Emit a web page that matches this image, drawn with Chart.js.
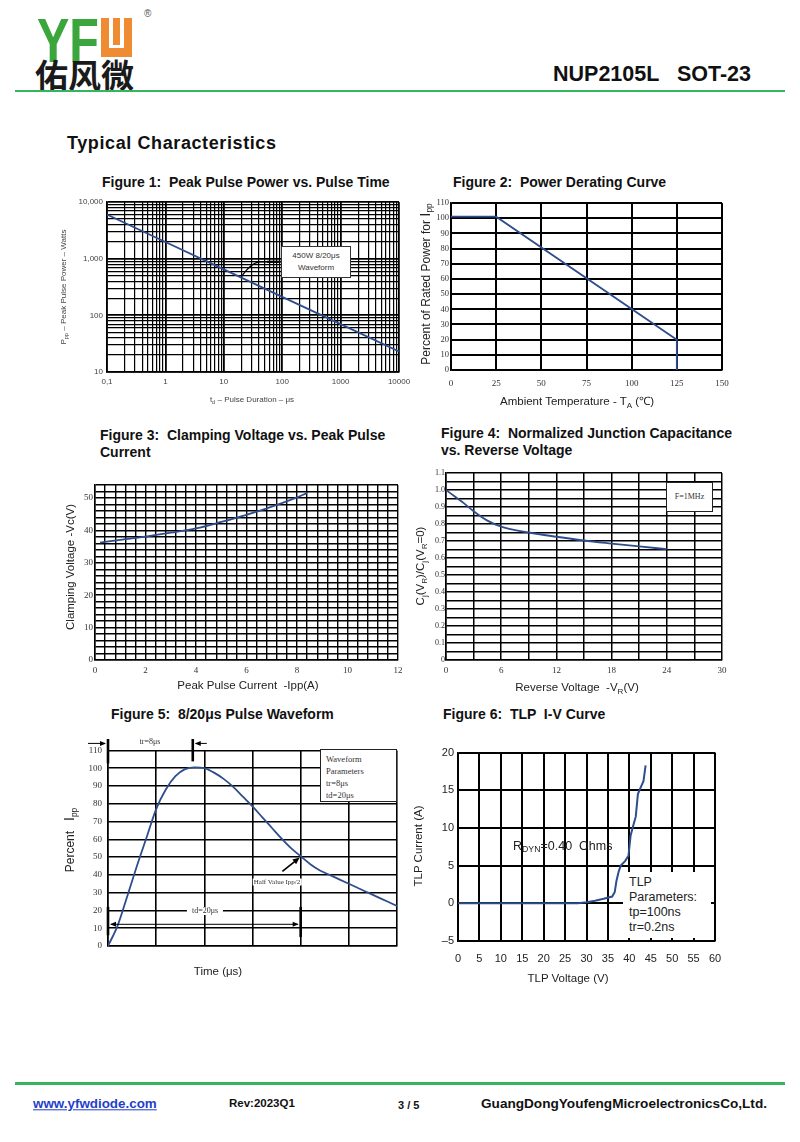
<!DOCTYPE html>
<html>
<head>
<meta charset="utf-8">
<title>NUP2105L SOT-23 Typical Characteristics</title>
<script src="https://cdn.jsdelivr.net/npm/chart.js@4.4.0/dist/chart.umd.min.js"></script>
<style>
body { margin: 0; width: 800px; height: 1142px; position: relative; background: #fff; overflow: hidden;
       font-family: "Liberation Sans", Arial, sans-serif; color: #111; }
.t { position: absolute; white-space: pre; line-height: 1; }
.c { transform: translate(-50%, -50%); }
.l { transform: translateY(-50%); }
.r { transform: translate(-50%, -50%) rotate(-90deg); }
.fig { font-weight: bold; font-size: 14px; }
.ax { font-size: 11.5px; color: #222; }
.sm { font-size: 8px; color: #444; }
.serif { font-family: "Liberation Serif", "Times New Roman", serif; }
canvas { position: absolute; }
.box { position: absolute; background: #fff; box-sizing: border-box; }
sub { font-size: 70%; vertical-align: -0.3em; line-height: 0; }
</style>
</head>
<body>

<!-- en-tête -->
<div class="t" style="left:37px;top:4px;font:bold 63px 'Liberation Sans';color:#3aa63b;transform:scaleX(0.77);transform-origin:left top;">YF</div>
<div style="position:absolute;left:101px;top:18px;width:31px;height:39px;background:#ef8b32;">
  <div style="position:absolute;left:8px;top:0;width:4px;height:30px;background:#fff;"></div>
  <div style="position:absolute;left:19px;top:0;width:4px;height:30px;background:#fff;"></div>
  <div style="position:absolute;left:8px;top:27px;width:15px;height:3px;background:#fff;"></div>
</div>
<div class="t" style="left:144px;top:9px;font-size:10px;color:#555;">®</div>
<div class="t" style="left:35px;top:50px;font:bold 33px 'Noto Sans CJK SC';color:#1a1a1a;">佑风微</div>
<div style="position:absolute;left:15px;top:90px;width:770px;height:2px;background:#35b462;"></div>
<div class="t l" style="left:553px;top:75px;font-weight:bold;font-size:21.5px;">NUP2105L   SOT-23</div>
<div class="t l" style="left:67px;top:143px;font-weight:bold;font-size:18px;letter-spacing:0.6px;">Typical Characteristics</div>

<!-- titres des figures -->
<div class="t l fig" style="left:102px;top:182px;">Figure 1:  Peak Pulse Power vs. Pulse Time</div>
<div class="t l fig" style="left:453px;top:182px;">Figure 2:  Power Derating Curve</div>
<div class="t l fig" style="left:100px;top:435px;">Figure 3:  Clamping Voltage vs. Peak Pulse</div>
<div class="t l fig" style="left:100px;top:452px;">Current</div>
<div class="t l fig" style="left:441px;top:433px;">Figure 4:  Normalized Junction Capacitance</div>
<div class="t l fig" style="left:441px;top:450px;">vs. Reverse Voltage</div>
<div class="t l fig" style="left:111px;top:714px;">Figure 5:  8/20μs Pulse Waveform</div>
<div class="t l fig" style="left:443px;top:714px;">Figure 6:  TLP  I-V Curve</div>

<!-- canvases -->
<canvas id="fig1"></canvas>
<canvas id="fig2"></canvas>
<canvas id="fig3"></canvas>
<canvas id="fig4"></canvas>
<canvas id="fig5"></canvas>
<canvas id="fig6"></canvas>

<!-- titres des axes -->
<div class="t r sm" style="left:64px;top:287px;">P<sub>pp</sub> – Peak Pulse Power – Watts</div>
<div class="t c sm" style="left:252px;top:400px;">t<sub>d</sub> – Pulse Duration – μs</div>
<div class="t r ax" style="left:424px;top:284px;font-size:12px;">Percent of Rated Power for <span style="font-size:15px">I</span><sub>pp</sub></div>
<div class="t c ax" style="left:577px;top:402px;">Ambient Temperature - T<sub>A</sub> (℃)</div>
<div class="t r ax" style="left:71px;top:567px;">Clamping Voltage -Vc(V)</div>
<div class="t c ax" style="left:248px;top:686px;">Peak Pulse Current  -Ipp(A)</div>
<div class="t r ax" style="left:421px;top:566px;">C<sub>j</sub>(V<sub>R</sub>)/C<sub>j</sub>(V<sub>R</sub>=0)</div>
<div class="t c ax" style="left:577px;top:688px;">Reverse Voltage  -V<sub>R</sub>(V)</div>
<div class="t r ax" style="left:69px;top:840px;font-size:12px;">Percent   <span style="font-size:14px">I</span><sub>pp</sub></div>
<div class="t c ax" style="left:218px;top:972px;">Time (μs)</div>
<div class="t r ax" style="left:419px;top:846px;">TLP Current (A)</div>
<div class="t c ax" style="left:568px;top:979px;">TLP Voltage (V)</div>

<!-- annotations -->
<div class="box sm" style="left:281px;top:246px;width:70px;height:32px;border:1px solid #333;text-align:center;line-height:12px;padding-top:3px;color:#333;">450W 8/20μs<br>Waveform</div>
<div class="box serif" style="left:666px;top:482px;width:47px;height:30px;border:1.5px solid #222;text-align:center;line-height:27px;font-size:8px;color:#333;">F=1MHz</div>
<div class="box serif" style="left:320px;top:749px;width:77px;height:53px;border:1px solid #222;font-size:8.5px;line-height:12px;padding:3px 0 0 5px;color:#333;">Waveform<br>Parameters<br>tr=8μs<br>td=20μs</div>
<div class="t c serif" style="left:150px;top:742px;font-size:8px;color:#333;">tr=8μs</div>
<div class="t c serif" style="left:205px;top:911px;font-size:8px;color:#333;background:#fff;padding:0 5px;">td=20μs</div>
<div class="t c serif" style="left:277px;top:882px;font-size:7px;color:#333;background:#fff;padding:0 1px;">Half Value Ipp/2</div>
<div class="t l" style="left:513px;top:846px;font-size:12.5px;color:#222;">R<sub>DYN</sub>=0.40  Ohms</div>
<div class="box" style="left:623px;top:872px;width:88px;height:66px;font-size:12.5px;line-height:15px;padding:3px 0 0 6px;color:#222;">TLP<br>Parameters:<br>tp=100ns<br>tr=0.2ns</div>

<!-- pied de page -->
<div style="position:absolute;left:15px;top:1082px;width:770px;height:3px;background:#35b462;"></div>
<div class="t l" style="left:33px;top:1104px;font-weight:bold;font-size:13.4px;color:#1f3fc8;text-decoration:underline;">www.yfwdiode.com</div>
<div class="t l" style="left:229px;top:1104px;font-weight:bold;font-size:11.5px;">Rev:2023Q1</div>
<div class="t l" style="left:398px;top:1105px;font-weight:bold;font-size:11px;">3 / 5</div>
<div class="t l" style="left:481px;top:1104px;font-weight:bold;font-size:13.6px;">GuangDongYoufengMicroelectronicsCo,Ltd.</div>

<script>
// Figure 1 : puissance crête vs durée d'impulsion (log-log)
const f1Duration = [0.1, 1, 10, 100, 1000, 10000];
const f1Power = [6000, 1970, 646, 212, 70, 23];
const f1XTicks = [0.1, 1, 10, 100, 1000, 10000];
const f1XLabels = ['0,1', '1', '10', '100', '1000', '10000'];
const f1YTicks = [10, 100, 1000, 10000];
const f1YLabels = ['10', '100', '1,000', '10,000'];

// Figure 2 : courbe de déclassement
const f2Temp = [0, 25, 125, 125];
const f2Percent = [101, 101, 20, 0];

// Figure 3 : tension d'écrêtage vs courant crête
const f3Current = [0.2, 1, 2, 3, 4, 5, 6, 7, 8, 8.4];
const f3Voltage = [36.2, 37.1, 38.1, 39.3, 40.6, 42.6, 44.8, 47.3, 50.2, 51.5];

// Figure 4 : capacité normalisée vs tension inverse
const f4Voltage = [0, 1, 2, 3, 4.5, 6, 9, 12, 15, 18, 21, 24];
const f4Ratio = [1.0, 0.96, 0.92, 0.875, 0.82, 0.785, 0.75, 0.725, 0.703, 0.685, 0.668, 0.652];

// Figure 5 : onde 8/20 µs
const f5Time = [0, 1, 2, 3, 4, 5, 6, 7, 8, 9, 10, 11, 12, 13, 14, 15, 16, 17, 18, 19, 20,
                21, 22, 23, 24, 25, 26, 27, 28, 29, 30];
const f5Percent = [0, 11.5, 28, 45, 61, 77, 88, 95.5, 99.5, 100.5, 100, 97.5, 94, 89.5, 84, 78.5,
                   72.5, 66.5, 60.5, 55, 50.5, 46, 42.5, 40, 37.5, 35, 32.5, 30, 27.5, 25, 22.5];
const f5RiseMark = 8.8;
const f5DecayMark = 20;

// Figure 6 : courbe TLP I-V
const f6Voltage = [0, 28, 30, 32, 34, 36, 36.6, 37, 37.5, 38, 39, 39.8, 40.3, 41, 41.5, 42, 42.5, 43.3, 43.8];
const f6Current = [0, 0, 0.15, 0.35, 0.6, 0.9, 1.5, 3, 4.2, 5, 5.6, 6.3, 9, 10.5, 11.5, 14.5, 15.2, 16.2, 18.3];

const LINE = '#2e4d8c';
const M = { l: 45, t: 10, r: 20, b: 30 };

Chart.defaults.font.family = "'Liberation Sans', Arial, sans-serif";
Chart.defaults.animation = false;

function pts(xs, ys) {
    return xs.map((x, i) => ({ x: x, y: ys[i] }));
}

function logTicks(min, max) {
    const out = [];
    for (let e = Math.round(Math.log10(min)); e < Math.round(Math.log10(max)); e++) {
        for (let k = 1; k <= 9; k++) out.push(+(k * Math.pow(10, e)).toPrecision(6));
    }
    out.push(max);
    return out;
}

function isDecade(v) {
    const l = Math.log10(v);
    return Math.abs(l - Math.round(l)) < 1e-9;
}

function scale(o) {
    const s = {
        type: o.type || 'linear',
        min: o.min,
        max: o.max,
        afterFit: o.axis === 'x' ? (sc) => { sc.height = M.b; } : (sc) => { sc.width = M.l; },
        ticks: {
            stepSize: o.step,
            autoSkip: false,
            maxRotation: 0,
            minRotation: 0,
            padding: o.pad,
            color: o.color || '#333',
            font: o.font,
            callback: o.fmt
        },
        grid: { color: '#000', lineWidth: o.gridW, drawTicks: false },
        border: { display: true, color: '#000', width: o.borderW || 1.5 }
    };
    if (o.values) {
        s.afterBuildTicks = (sc) => { sc.ticks = o.values.map(v => ({ value: v })); };
    }
    return s;
}

function line(ctx, x1, y1, x2, y2) {
    ctx.beginPath();
    ctx.moveTo(x1, y1);
    ctx.lineTo(x2, y2);
    ctx.stroke();
}

function arrowHead(ctx, x1, y1, x2, y2, len, wid) {
    const a = Math.atan2(y2 - y1, x2 - x1);
    ctx.beginPath();
    ctx.moveTo(x2, y2);
    ctx.lineTo(x2 - len * Math.cos(a) + wid * Math.sin(a), y2 - len * Math.sin(a) - wid * Math.cos(a));
    ctx.lineTo(x2 - len * Math.cos(a) - wid * Math.sin(a), y2 - len * Math.sin(a) + wid * Math.cos(a));
    ctx.closePath();
    ctx.fill();
}

function build(id, rect, xScale, yScale, dataset, extra) {
    const cv = document.getElementById(id);
    const w = rect.r - rect.l + M.l + M.r;
    const h = rect.b - rect.t + M.t + M.b;
    cv.width = w;
    cv.height = h;
    cv.style.left = (rect.l - M.l) + 'px';
    cv.style.top = (rect.t - M.t) + 'px';
    cv.style.width = w + 'px';
    cv.style.height = h + 'px';

    return new Chart(cv.getContext('2d'), {
        type: 'scatter',
        data: {
            datasets: [Object.assign({
                showLine: true,
                borderColor: LINE,
                backgroundColor: LINE,
                borderWidth: 1.8,
                pointRadius: 0,
                pointHoverRadius: 0,
                fill: false
            }, dataset)]
        },
        options: {
            responsive: false,
            devicePixelRatio: 1,
            layout: { padding: { left: 0, top: M.t, right: M.r, bottom: 0 } },
            plugins: { legend: { display: false }, tooltip: { enabled: false } },
            scales: { x: xScale, y: yScale }
        },
        plugins: extra ? [extra] : []
    });
}

const serif9 = { family: "'Liberation Serif', 'Times New Roman', serif", size: 9 };

// ---- Figure 1
build('fig1', { l: 107, t: 202, r: 399, b: 372 },
    scale({
        axis: 'x', type: 'logarithmic', min: 0.1, max: 10000, values: logTicks(0.1, 10000),
        pad: 5, color: '#444', font: { size: 8 },
        gridW: (c) => (c.tick && isDecade(c.tick.value) ? 1.8 : 1.2),
        fmt: (v) => { const i = f1XTicks.findIndex(t => Math.abs(t - v) < 1e-9); return i >= 0 ? f1XLabels[i] : ''; }
    }),
    scale({
        axis: 'y', type: 'logarithmic', min: 10, max: 10000, values: logTicks(10, 10000),
        pad: 4, color: '#444', font: { size: 8 },
        gridW: (c) => (c.tick && isDecade(c.tick.value) ? 1.8 : 1.2),
        fmt: (v) => { const i = f1YTicks.indexOf(v); return i >= 0 ? f1YLabels[i] : ''; }
    }),
    { data: pts(f1Duration, f1Power), tension: 0 },
    {
        id: 'f1note',
        afterDraw(chart) {
            const ctx = chart.ctx, xs = chart.scales.x, ys = chart.scales.y;
            ctx.save();
            ctx.strokeStyle = '#000';
            ctx.lineWidth = 1.2;
            ctx.beginPath();
            ctx.moveTo(xs.getPixelForValue(20), ys.getPixelForValue(480));
            ctx.quadraticCurveTo(xs.getPixelForValue(30), ys.getPixelForValue(880),
                                 xs.getPixelForValue(42), ys.getPixelForValue(880));
            ctx.lineTo(xs.getPixelForValue(93), ys.getPixelForValue(880));
            ctx.stroke();
            ctx.lineWidth = 2.2;
            line(ctx, xs.getPixelForValue(55), ys.getPixelForValue(880), xs.getPixelForValue(93), ys.getPixelForValue(880));
            ctx.restore();
        }
    });

// ---- Figure 2
build('fig2', { l: 451, t: 203, r: 722, b: 370 },
    scale({ axis: 'x', min: 0, max: 150, step: 25, pad: 8, font: serif9, gridW: 2 }),
    scale({ axis: 'y', min: 0, max: 110, step: 10, pad: 2, font: { family: serif9.family, size: 8.5 }, gridW: 2 }),
    { data: pts(f2Temp, f2Percent), tension: 0 });

// ---- Figure 3
build('fig3', { l: 95, t: 485, r: 398, b: 660 },
    scale({
        axis: 'x', min: 0, max: 12, step: 0.4, pad: 5, font: serif9, gridW: 1.4,
        fmt: (v) => (Math.abs(v / 2 - Math.round(v / 2)) < 1e-6 ? String(Math.round(v)) : '')
    }),
    scale({
        axis: 'y', min: 0, max: 54, step: 2, pad: 2, font: serif9, gridW: 1.4,
        fmt: (v) => (Math.round(v) % 10 === 0 ? String(Math.round(v)) : '')
    }),
    { data: pts(f3Current, f3Voltage), cubicInterpolationMode: 'monotone' });

// ---- Figure 4
build('fig4', { l: 446, t: 473, r: 722, b: 660 },
    scale({
        axis: 'x', min: 0, max: 30, step: 3, pad: 5, font: serif9, gridW: 1.5,
        fmt: (v) => (Math.round(v) % 6 === 0 ? String(Math.round(v)) : '')
    }),
    scale({
        axis: 'y', min: 0, max: 1.1, step: 0.05, pad: 1, font: { family: serif9.family, size: 8 }, gridW: 1.4,
        fmt: (v) => {
            const k = Math.round(v * 100);
            if (k % 10 !== 0) return '';
            return k === 0 ? '0' : (k / 100).toFixed(1);
        }
    }),
    { data: pts(f4Voltage, f4Ratio), cubicInterpolationMode: 'monotone' });

// ---- Figure 5
build('fig5', { l: 108, t: 749, r: 397, b: 946 },
    scale({ axis: 'x', min: 0, max: 30, step: 5, pad: 5, font: serif9, gridW: 1.6, fmt: () => '' }),
    scale({ axis: 'y', min: 0, max: 110, step: 10, pad: 6, font: serif9, gridW: 1.6 }),
    { data: pts(f5Time, f5Percent), cubicInterpolationMode: 'monotone' },
    {
        id: 'f5marks',
        afterDraw(chart) {
            const ctx = chart.ctx, xs = chart.scales.x, ys = chart.scales.y;
            const X = (v) => xs.getPixelForValue(v), Y = (v) => ys.getPixelForValue(v);
            ctx.save();
            ctx.strokeStyle = '#000';
            ctx.fillStyle = '#000';
            // tr
            ctx.lineWidth = 2.6;
            line(ctx, X(0), Y(110) - 16, X(0), Y(110) + 13);
            line(ctx, X(f5RiseMark), Y(110) - 16, X(f5RiseMark), Y(110) + 11);
            ctx.lineWidth = 1;
            const ya = Y(110) - 7;
            line(ctx, X(0) - 20, ya, X(0) - 3, ya);
            arrowHead(ctx, X(0) - 20, ya, X(0) - 2, ya, 6, 2.5);
            line(ctx, X(f5RiseMark) + 14, ya, X(f5RiseMark) + 3, ya);
            arrowHead(ctx, X(f5RiseMark) + 14, ya, X(f5RiseMark) + 2, ya, 6, 2.5);
            // td
            ctx.lineWidth = 2.6;
            line(ctx, X(0), Y(22), X(0), Y(6));
            line(ctx, X(f5DecayMark), Y(22), X(f5DecayMark), Y(5));
            ctx.lineWidth = 1;
            const yb = Y(12.2);
            line(ctx, X(0) + 3, yb, X(f5DecayMark) - 3, yb);
            arrowHead(ctx, X(3), yb, X(0) + 2, yb, 6, 2.5);
            arrowHead(ctx, X(17), yb, X(f5DecayMark) - 2, yb, 6, 2.5);
            // demi-valeur
            ctx.lineWidth = 1.6;
            line(ctx, X(18.1), Y(42), X(19.6), Y(48.5));
            arrowHead(ctx, X(18.1), Y(42), X(19.9), Y(49.8), 7, 3);
            ctx.restore();
        }
    });

// ---- Figure 6
build('fig6', { l: 458, t: 752, r: 715, b: 941 },
    scale({ axis: 'x', min: 0, max: 60, step: 5, pad: 11, color: '#222', font: { size: 11 }, gridW: 2 }),
    scale({
        axis: 'y', min: -5, max: 20, step: 5, pad: 4, color: '#222', font: { size: 11 }, gridW: 2,
        fmt: (v) => (v < 0 ? '–' + Math.abs(v) : String(v))
    }),
    { data: pts(f6Voltage, f6Current), tension: 0, borderWidth: 2 });
</script>
</body>
</html>
